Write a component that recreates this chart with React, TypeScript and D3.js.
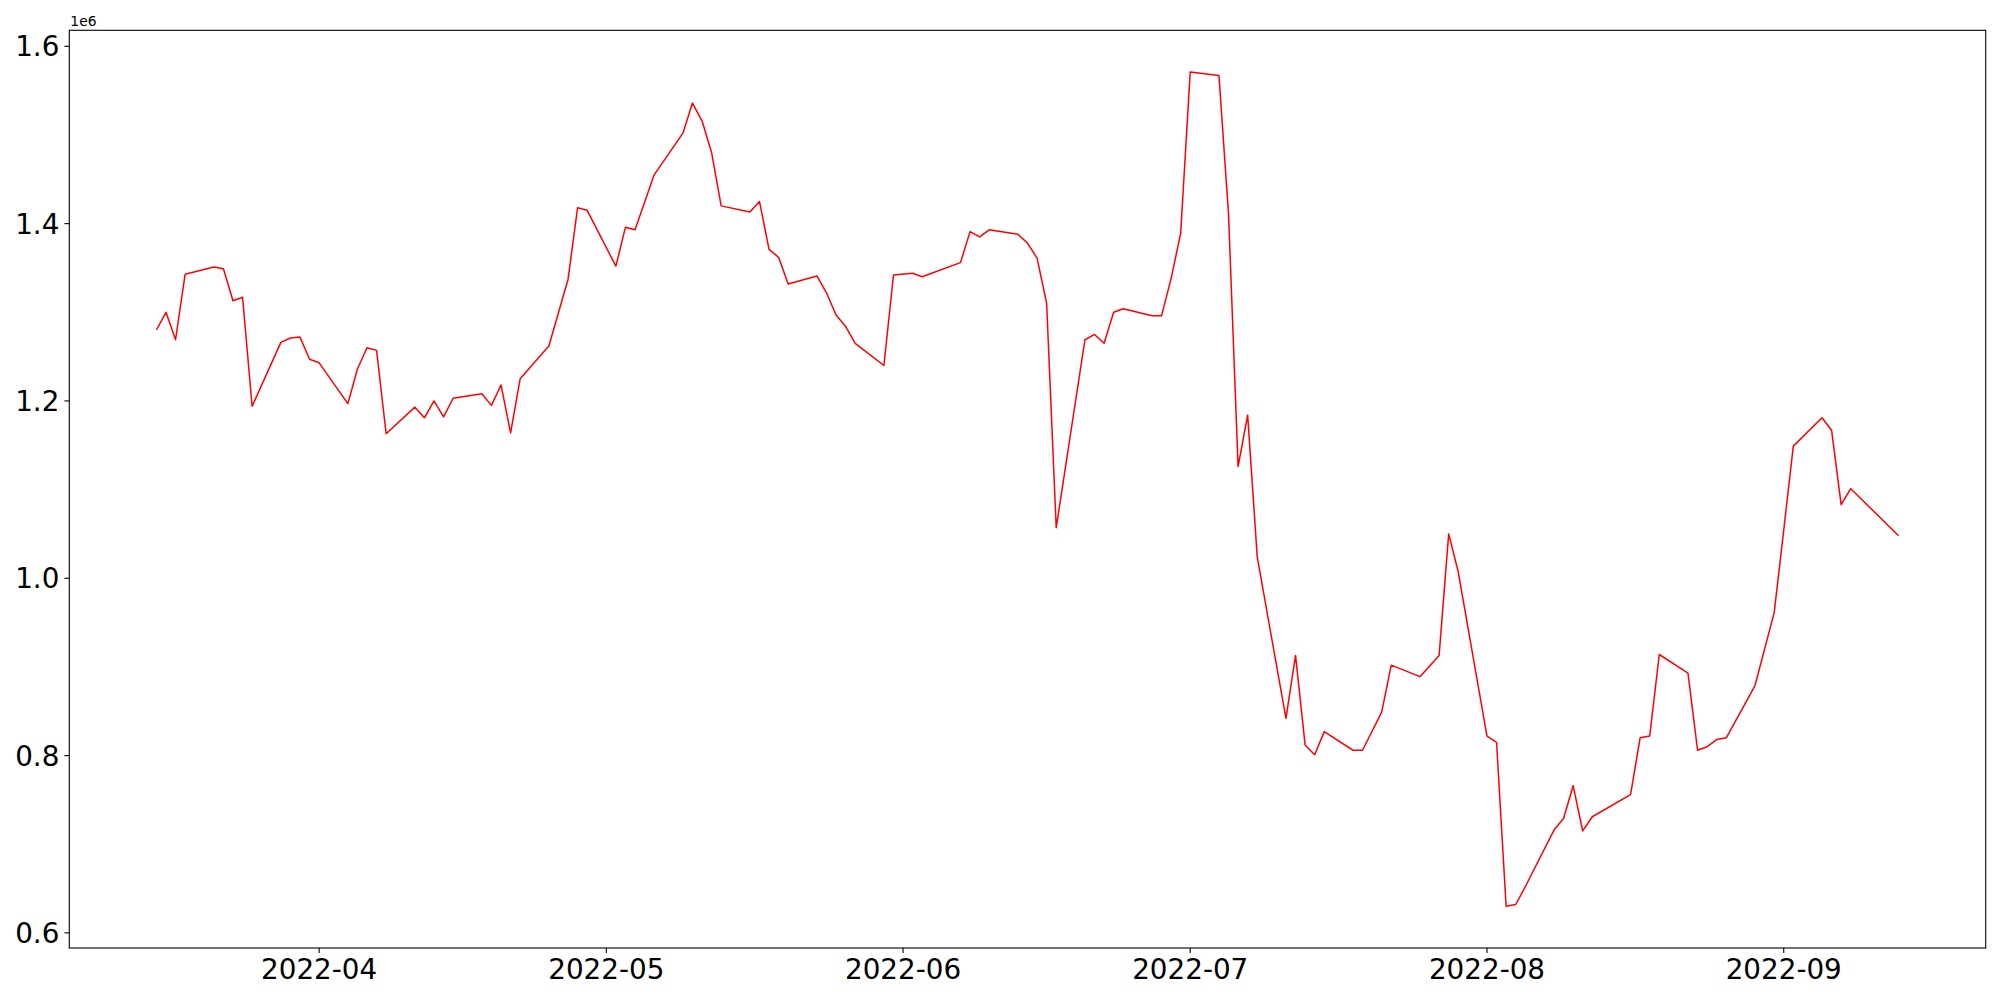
import React from "react";
import * as d3 from "d3";

// trading days (gaps are weekends / missing days)
const dates = [
  "2022-03-15", "2022-03-16", "2022-03-17", "2022-03-18", "2022-03-21", "2022-03-22", "2022-03-23", "2022-03-24",
  "2022-03-25", "2022-03-28", "2022-03-29", "2022-03-30", "2022-03-31", "2022-04-01", "2022-04-04", "2022-04-05",
  "2022-04-06", "2022-04-07", "2022-04-08", "2022-04-11", "2022-04-12", "2022-04-13", "2022-04-14", "2022-04-15",
  "2022-04-18", "2022-04-19", "2022-04-20", "2022-04-21", "2022-04-22", "2022-04-25", "2022-04-27", "2022-04-28",
  "2022-04-29", "2022-05-02", "2022-05-03", "2022-05-04", "2022-05-06", "2022-05-09", "2022-05-10", "2022-05-11",
  "2022-05-12", "2022-05-13", "2022-05-16", "2022-05-17", "2022-05-18", "2022-05-19", "2022-05-20", "2022-05-23",
  "2022-05-24", "2022-05-25", "2022-05-26", "2022-05-27", "2022-05-30", "2022-05-31", "2022-06-02", "2022-06-03",
  "2022-06-07", "2022-06-08", "2022-06-09", "2022-06-10", "2022-06-13", "2022-06-14", "2022-06-15", "2022-06-16",
  "2022-06-17", "2022-06-20", "2022-06-21", "2022-06-22", "2022-06-23", "2022-06-24", "2022-06-27", "2022-06-28",
  "2022-06-29", "2022-06-30", "2022-07-01", "2022-07-04", "2022-07-05", "2022-07-06", "2022-07-07", "2022-07-08",
  "2022-07-11", "2022-07-12", "2022-07-13", "2022-07-14", "2022-07-15", "2022-07-18", "2022-07-19", "2022-07-21",
  "2022-07-22", "2022-07-25", "2022-07-27", "2022-07-28", "2022-07-29", "2022-08-01", "2022-08-02", "2022-08-03",
  "2022-08-04", "2022-08-05", "2022-08-08", "2022-08-09", "2022-08-10", "2022-08-11", "2022-08-12", "2022-08-16",
  "2022-08-17", "2022-08-18", "2022-08-19", "2022-08-22", "2022-08-23", "2022-08-24", "2022-08-25", "2022-08-26",
  "2022-08-29", "2022-08-31", "2022-09-01", "2022-09-02", "2022-09-05", "2022-09-06", "2022-09-07", "2022-09-08",
  "2022-09-13",
];

const values = [
  1280000, 1300000, 1269000, 1343000, 1351000, 1349000, 1313000, 1317000,
  1194000, 1266000, 1271000, 1272000, 1247000, 1243000, 1197000, 1236000,
  1260000, 1257000, 1163000, 1193000, 1181000, 1200000, 1182000, 1203000,
  1208000, 1195000, 1218000, 1164000, 1225000, 1262000, 1337000, 1418000,
  1415000, 1352000, 1396000, 1393000, 1455000, 1502000, 1536000, 1516000,
  1480000, 1420000, 1413000, 1425000, 1371000, 1362000, 1332000, 1341000,
  1322000, 1297000, 1284000, 1265000, 1240000, 1342000, 1344000, 1340000,
  1356000, 1391000, 1385000, 1393000, 1388000, 1378000, 1361000, 1310000,
  1057000, 1269000, 1275000, 1265000, 1300000, 1304000, 1296000, 1296000,
  1338000, 1389000, 1571000, 1567000, 1411000, 1126000, 1184000, 1024000,
  842000, 913000, 812000, 801000, 827000, 806000, 806000, 849000,
  902000, 889000, 913000, 1050000, 1007000, 822000, 815000, 630000,
  632000, 652000, 716000, 729000, 766000, 715000, 731000, 756000,
  820000, 822000, 914000, 893000, 806000, 810000, 818000, 820000,
  879000, 961000, 1054000, 1149000, 1181000, 1167000, 1083000, 1101000,
  1048000,
];

const xTickLabels = ["2022-04", "2022-05", "2022-06", "2022-07", "2022-08", "2022-09"];
const yTicks = [600000, 800000, 1000000, 1200000, 1400000, 1600000];

const W = 2000;
const H = 1000;
const margin = { top: 30.3, right: 14.3, bottom: 52, left: 69.3 };
const font = "DejaVu Sans, sans-serif";

export default function App() {
  const parse = d3.timeParse("%Y-%m-%d");
  const data = dates.map((d, i) => ({ date: parse(d) as Date, value: values[i] }));

  // matplotlib style 5% margins
  const [x0, x1] = d3.extent(data, (d) => d.date.getTime()) as [number, number];
  const xPad = (x1 - x0) * 0.05;
  const [y0, y1] = d3.extent(data, (d) => d.value) as [number, number];
  const yPad = (y1 - y0) * 0.05;

  const x = d3.scaleTime()
    .domain([new Date(x0 - xPad), new Date(x1 + xPad)])
    .range([margin.left, W - margin.right]);
  const y = d3.scaleLinear()
    .domain([y0 - yPad, y1 + yPad])
    .range([H - margin.bottom, margin.top]);

  const line = d3.line<{ date: Date; value: number }>()
    .x((d) => x(d.date))
    .y((d) => y(d.value));

  const tickLen = 4.9;
  const bottom = H - margin.bottom;
  const fmtY = d3.format(".1f");

  return (
    <svg width={W} height={H} style={{ position: "absolute", left: 0, top: 0, background: "#fff" }}>
      <rect x={0} y={0} width={W} height={H} fill="#fff" />
      <path d={line(data) || ""} fill="none" stroke="#ff0000" strokeWidth={1.5} strokeLinejoin="round" />

      {/* y axis */}
      {yTicks.map((t) => (
        <g key={t}>
          <line x1={margin.left - tickLen} x2={margin.left} y1={y(t)} y2={y(t)} stroke="#000" strokeWidth={1.1} />
          <text x={margin.left - tickLen - 5} y={y(t)} dy="0.36em" textAnchor="end" fontFamily={font} fontSize={27.8} fill="#000">
            {fmtY(t / 1e6)}
          </text>
        </g>
      ))}
      <text x={margin.left + 1} y={26} fontFamily={font} fontSize={13.9} fill="#000">1e6</text>

      {/* x axis */}
      {xTickLabels.map((lbl) => {
        const px = x(parse(lbl + "-01") as Date);
        return (
          <g key={lbl}>
            <line x1={px} x2={px} y1={bottom} y2={bottom + tickLen} stroke="#000" strokeWidth={1.1} />
            <text x={px} y={bottom + 31} textAnchor="middle" fontFamily={font} fontSize={27.8} fill="#000">
              {lbl}
            </text>
          </g>
        );
      })}

      {/* frame */}
      <rect x={margin.left} y={margin.top} width={W - margin.left - margin.right} height={bottom - margin.top}
        fill="none" stroke="#000" strokeWidth={1.1} />
    </svg>
  );
}
